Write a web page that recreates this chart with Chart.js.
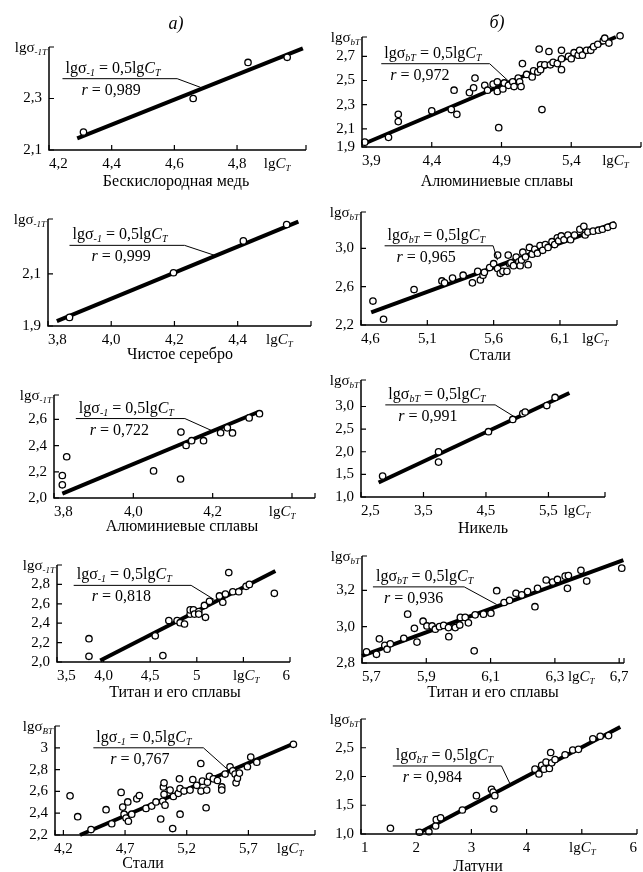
<!DOCTYPE html>
<html lang="ru">
<head>
<meta charset="UTF-8" />
<title>lgσ – lgC_T</title>
<script src="https://cdn.jsdelivr.net/npm/chart.js"></script>
<style>
  html, body { margin: 0; background: #fff; overflow: hidden; }
  #page {
    position: relative;
    width: 643px; height: 872px;
    overflow: hidden;
    font-family: 'Liberation Serif', 'Times New Roman', serif;
    color: #000;
  }
  #page canvas { position: absolute; }
  .cap { position: absolute; font-size: 16px; white-space: nowrap; transform: translate(-50%, -50%); }
  .hdr { position: absolute; font-size: 18px; font-style: italic; transform: translate(-50%, -50%); }
</style>
</head>
<body>
<div id="page"></div>

<script>
// --- Бескислородная медь ---
const cuX = [4.31, 4.66, 4.835, 4.96];
const cuY = [2.17, 2.30, 2.44, 2.46];
const cuFitX = [4.29, 5.01];
const cuFitY = [2.145, 2.495];
const cuXTicks = [4.2, 4.4, 4.6, 4.8, 5.02];
const cuXLabels = ['4,2', '4,4', '4,6', '4,8', ''];
const cuYTicks = [2.1, 2.3];
const cuYLabels = ['2,1', '2,3'];

// --- Алюминиевые сплавы (σbT) ---
const alBX = [3.92, 4.09, 4.16, 4.16, 4.40, 4.54, 4.56, 4.58,
              4.67, 4.70, 4.71, 4.78, 4.80, 4.84, 4.87, 4.87,
              4.88, 4.91, 4.92, 4.95, 4.98, 4.99, 5.02, 5.03,
              5.04, 5.05, 5.08, 5.12, 5.13, 5.16, 5.17, 5.18,
              5.18, 5.19, 5.21, 5.24, 5.25, 5.27, 5.30, 5.33,
              5.33, 5.33, 5.38, 5.40, 5.42, 5.45, 5.46, 5.48,
              5.51, 5.54, 5.56, 5.59, 5.63, 5.64, 5.67, 5.75];
const alBY = [1.99, 2.03, 2.22, 2.16, 2.25, 2.26, 2.42, 2.22,
              2.40, 2.44, 2.52, 2.46, 2.42, 2.47, 2.49, 2.41,
              2.11, 2.43, 2.48, 2.46, 2.49, 2.45, 2.52, 2.49,
              2.45, 2.64, 2.55, 2.53, 2.58, 2.57, 2.76, 2.63,
              2.59, 2.26, 2.63, 2.74, 2.63, 2.65, 2.64, 2.68,
              2.59, 2.75, 2.70, 2.68, 2.73, 2.71, 2.75, 2.71,
              2.75, 2.75, 2.78, 2.80, 2.83, 2.85, 2.81, 2.87];
const alBFitX = [3.91, 5.72];
const alBFitY = [1.975, 2.86];
const alBXTicks = [3.9, 4.4, 4.9, 5.4, 5.9];
const alBXLabels = ['3,9', '4,4', '4,9', '5,4', ''];
const alBYTicks = [1.95, 2.1, 2.3, 2.5, 2.7];
const alBYLabels = ['1,9', '2,1', '2,3', '2,5', '2,7'];

// --- Чистое серебро ---
const agX = [3.868, 4.197, 4.418, 4.555];
const agY = [1.933, 2.104, 2.226, 2.289];
const agFitX = [3.828, 4.592];
const agFitY = [1.919, 2.30];
const agXTicks = [3.8, 4.0, 4.2, 4.4, 4.632];
const agXLabels = ['3,8', '4,0', '4,2', '4,4', ''];
const agYTicks = [1.9, 2.1];
const agYLabels = ['1,9', '2,1'];

// --- Стали (σbT) ---
const stBX = [4.69, 4.77, 5.00, 5.21, 5.23, 5.29, 5.37, 5.44,
              5.48, 5.50, 5.52, 5.53, 5.57, 5.60, 5.63, 5.63,
              5.65, 5.67, 5.70, 5.71, 5.72, 5.73, 5.75, 5.77,
              5.79, 5.80, 5.81, 5.82, 5.84, 5.86, 5.87, 5.89,
              5.91, 5.93, 5.95, 5.97, 5.99, 6.01, 6.04, 6.06,
              6.08, 6.09, 6.11, 6.13, 6.16, 6.18, 6.21, 6.25,
              6.28, 6.29, 6.31, 6.35, 6.39, 6.42, 6.46, 6.50];
const stBY = [2.45, 2.26, 2.57, 2.66, 2.64, 2.69, 2.72, 2.64,
              2.76, 2.67, 2.72, 2.75, 2.80, 2.84, 2.93, 2.79,
              2.74, 2.76, 2.76, 2.93, 2.84, 2.85, 2.82, 2.91,
              2.86, 2.82, 2.88, 2.96, 2.91, 2.83, 3.01, 2.94,
              2.99, 2.95, 3.03, 2.98, 3.04, 3.01, 3.07, 3.04,
              3.11, 3.08, 3.13, 3.09, 3.14, 3.09, 3.14, 3.20,
              3.23, 3.14, 3.17, 3.18, 3.19, 3.20, 3.22, 3.24];
const stBFitX = [4.677, 6.516];
const stBFitY = [2.333, 3.267];
const stBXTicks = [4.6, 5.1, 5.6, 6.1, 6.53];
const stBXLabels = ['4,6', '5,1', '5,6', '6,1', ''];
const stBYTicks = [2.2, 2.6, 3.0];
const stBYLabels = ['2,2', '2,6', '3,0'];

// --- Алюминиевые сплавы (σ-1T) ---
const alAX = [3.821, 3.821, 3.832, 4.051, 4.12, 4.119, 4.133, 4.147, 4.177, 4.22, 4.237, 4.25, 4.292, 4.318];
const alAY = [2.172, 2.101, 2.315, 2.207, 2.504, 2.145, 2.401, 2.438, 2.438, 2.499, 2.536, 2.497, 2.612, 2.644];
const alAFitX = [3.821, 4.315];
const alAFitY = [2.034, 2.657];
const alAXTicks = [3.8, 4.0, 4.2, 4.4];
const alAXLabels = ['3,8', '4,0', '4,2', ''];
const alAYTicks = [2.0, 2.2, 2.4, 2.6];
const alAYLabels = ['2,0', '2,2', '2,4', '2,6'];

// --- Никель ---
const niX = [2.846, 3.741, 3.741, 4.54, 4.929, 5.089, 5.127, 5.473, 5.606];
const niY = [1.464, 2.0, 1.771, 2.443, 2.714, 2.843, 2.879, 3.021, 3.2];
const niFitX = [2.782, 5.835];
const niFitY = [1.321, 3.3];
const niXTicks = [2.5, 3.5, 4.5, 5.5, 6.405];
const niXLabels = ['2,5', '3,5', '4,5', '5,5', ''];
const niYTicks = [1.0, 1.5, 2.0, 2.5, 3.0];
const niYLabels = ['1,0', '1,5', '2,0', '2,5', '3,0'];

// --- Титан и его сплавы (σ-1T) ---
const tiAX = [3.843, 3.843, 4.554, 4.636, 4.70, 4.789, 4.821, 4.868, 4.929, 4.929,
              4.964, 4.975, 5.021, 5.021, 5.082, 5.093, 5.136, 5.243, 5.279, 5.307,
              5.343, 5.386, 5.45, 5.529, 5.564, 5.832];
const tiAY = [2.24, 2.059, 2.27, 2.066, 2.428, 2.428, 2.405, 2.392, 2.494, 2.537,
              2.537, 2.494, 2.52, 2.494, 2.583, 2.461, 2.626, 2.681, 2.616, 2.701,
              2.922, 2.724, 2.724, 2.78, 2.80, 2.708];
const tiAFitX = [3.964, 5.843];
const tiAFitY = [2.016, 2.938];
const tiAXTicks = [3.5, 4.0, 4.5, 5.0, 5.5, 6.0];
const tiAXLabels = ['3,5', '4,0', '4,5', '5', '', '6'];
const tiAYTicks = [2.0, 2.2, 2.4, 2.6, 2.8];
const tiAYLabels = ['2,0', '2,2', '2,4', '2,6', '2,8'];

// --- Титан и его сплавы (σbT) ---
const tiBX = [5.714, 5.745, 5.754, 5.771, 5.778, 5.788, 5.83, 5.842, 5.863, 5.871,
              5.89, 5.902, 5.918, 5.928, 5.941, 5.954, 5.969, 5.97, 5.99, 6.004,
              6.006, 6.021, 6.031, 6.049, 6.052, 6.078, 6.101, 6.119, 6.142, 6.159,
              6.179, 6.197, 6.215, 6.238, 6.246, 6.273, 6.293, 6.308, 6.332, 6.339,
              6.342, 6.381, 6.399, 6.508];
const tiBY = [2.862, 2.848, 2.933, 2.897, 2.876, 2.906, 2.936, 3.069, 2.991, 2.915,
              3.03, 3.004, 3.004, 2.986, 3.0, 3.007, 2.995, 2.945, 2.995, 3.009,
              3.051, 3.051, 3.021, 2.867, 3.065, 3.069, 3.074, 3.198, 3.133, 3.145,
              3.184, 3.175, 3.193, 3.11, 3.211, 3.257, 3.246, 3.26, 3.278, 3.211,
              3.281, 3.31, 3.251, 3.322];
const tiBFitX = [5.70, 6.513];
const tiBFitY = [2.839, 3.366];
const tiBXTicks = [5.7, 5.9, 6.1, 6.3, 6.5, 6.515];
const tiBXLabels = ['5,7', '5,9', '6,1', '6,3', '6,7', ''];
const tiBYTicks = [2.8, 3.0, 3.2];
const tiBYLabels = ['2,8', '3,0', '3,2'];

// --- Стали (σBT) ---
const stAX = [4.254, 4.316, 4.424, 4.546, 4.592, 4.668, 4.681, 4.692, 4.708, 4.722,
              4.727, 4.754, 4.795, 4.816, 4.87, 4.916, 4.951, 4.989, 5.005, 5.011,
              5.016, 5.016, 5.024, 5.065, 5.086, 5.092, 5.132, 5.141, 5.146, 5.146,
              5.178, 5.227, 5.249, 5.281, 5.314, 5.316, 5.327, 5.357, 5.362, 5.368,
              5.384, 5.416, 5.449, 5.484, 5.484, 5.511, 5.551, 5.573, 5.592, 5.60,
              5.611, 5.627, 5.692, 5.719, 5.768, 6.065];
const stAY = [2.559, 2.368, 2.25, 2.432, 2.303, 2.591, 2.456, 2.391, 2.356, 2.503,
              2.326, 2.391, 2.532, 2.562, 2.444, 2.465, 2.503, 2.347, 2.509, 2.641,
              2.679, 2.574, 2.474, 2.612, 2.259, 2.553, 2.582, 2.715, 2.626, 2.391,
              2.603, 2.612, 2.709, 2.656, 2.856, 2.603, 2.694, 2.45, 2.612, 2.685,
              2.738, 2.715, 2.70, 2.641, 2.612, 2.759, 2.826, 2.788, 2.759, 2.679,
              2.721, 2.768, 2.826, 2.915, 2.868, 3.032];
const stAFitX = [4.335, 6.078];
const stAFitY = [2.20, 3.044];
const stAXTicks = [4.132, 4.2, 4.7, 5.2, 5.7, 6.24];
const stAXLabels = ['', '4,2', '4,7', '5,2', '5,7', ''];
const stAYTicks = [2.2, 2.4, 2.6, 2.8, 3.0];
const stAYLabels = ['2,2', '2,4', '2,6', '2,8', '3'];

// --- Латуни ---
const brX = [1.533, 2.06, 2.23, 2.352, 2.364, 2.442, 2.836, 3.091, 3.364, 3.394,
             3.406, 3.424, 4.152, 4.224, 4.273, 4.315, 4.352, 4.412, 4.436, 4.455,
             4.515, 4.697, 4.836, 4.939, 5.20, 5.333, 5.485];
const brY = [1.10, 1.03, 1.04, 1.139, 1.25, 1.283, 1.417, 1.667, 1.778, 1.728,
             1.433, 1.667, 2.128, 2.044, 2.194, 2.128, 2.25, 2.139, 2.417, 2.239,
             2.294, 2.378, 2.461, 2.472, 2.656, 2.70, 2.711];
const brFitX = [2.048, 5.697];
const brFitY = [1.017, 2.861];
const brXTicks = [1, 2, 3, 4, 5, 6];
const brXLabels = ['1', '2', '3', '4', '', '6'];
const brYTicks = [1.0, 1.5, 2.0, 2.5];
const brYLabels = ['1,0', '1,5', '2,0', '2,5'];

const SERIF = '"Liberation Serif", "Times New Roman", serif';
const PADL = 46, PADR = 14, PADT = 12, PADB = 24;

// plot boxes on the page, axis ranges and the equation callouts (in data units)
const panels = [
  { x: cuX, y: cuY, fx: cuFitX, fy: cuFitY, xt: cuXTicks, xl: cuXLabels, yt: cuYTicks, yl: cuYLabels,
    L: 49.3, R: 306.7, T: 43.3, B: 150.7, xr: [4.2, 5.02], yr: [2.1, 2.5],
    ySub: '-1T', eqSub: '-1', r: '0,989', cx: 4.928, rDx: 19,
    note: { x0: 4.243, x1: 4.609, x2: 4.684, y1: 2.377, y2: 2.343 },
    cap: 'Бескислородная медь', capX: 176, capY: 181 },
  { x: alBX, y: alBY, fx: alBFitX, fy: alBFitY, xt: alBXTicks, xl: alBXLabels, yt: alBYTicks, yl: alBYLabels,
    L: 362.3, R: 641.5, T: 33.3, B: 147, xr: [3.9, 5.9], yr: [1.95, 2.86],
    ySub: 'bT', eqSub: 'bT', r: '0,972', cx: 5.717, rDx: 9,
    note: { x0: 4.038, x1: 4.815, x2: 4.958, y1: 2.639, y2: 2.487 },
    cap: 'Алюминиевые сплавы', capX: 497, capY: 181 },
  { x: agX, y: agY, fx: agFitX, fy: agFitY, xt: agXTicks, xl: agXLabels, yt: agYTicks, yl: agYLabels,
    L: 48.3, R: 311.7, T: 215, B: 325.7, xr: [3.8, 4.632], yr: [1.9, 2.31],
    ySub: '-1T', eqSub: '-1', r: '0,999', cx: 4.532, rDx: 22,
    note: { x0: 3.868, x1: 4.232, x2: 4.329, y1: 2.209, y2: 2.170 },
    cap: 'Чистое серебро', capX: 180, capY: 354 },
  { x: stBX, y: stBY, fx: stBFitX, fy: stBFitY, xt: stBXTicks, xl: stBXLabels, yt: stBYTicks, yl: stBYLabels,
    L: 361, R: 616.7, T: 208.3, B: 325.7, xr: [4.6, 6.53], yr: [2.2, 3.38],
    ySub: 'bT', eqSub: 'bT', r: '0,965', cx: 6.366, rDx: 12,
    note: { x0: 4.778, x1: 5.596, x2: 5.629, y1: 3.027, y2: 2.877 },
    cap: 'Стали', capX: 490, capY: 355 },
  { x: alAX, y: alAY, fx: alAFitX, fy: alAFitY, xt: alAXTicks, xl: alAXLabels, yt: alAYTicks, yl: alAYLabels,
    L: 54, R: 315, T: 390.7, B: 497.3, xr: [3.8, 4.458], yr: [2.0, 2.787],
    ySub: '-1T', eqSub: '-1', r: '0,722', cx: 4.375, rDx: 14,
    note: { x0: 3.855, x1: 4.13, x2: 4.202, y1: 2.607, y2: 2.509 },
    cap: 'Алюминиевые сплавы', capX: 182, capY: 526 },
  { x: niX, y: niY, fx: niFitX, fy: niFitY, xt: niXTicks, xl: niXLabels, yt: niYTicks, yl: niYLabels,
    L: 360.7, R: 605, T: 376, B: 496.7, xr: [2.5, 6.405], yr: [1.0, 3.586],
    ySub: 'bT', eqSub: 'bT', r: '0,991', cx: 5.957, rDx: 13,
    note: { x0: 2.889, x1: 4.647, x2: 4.94, y1: 3.036, y2: 2.786 },
    cap: 'Никель', capX: 483, capY: 528 },
  { x: tiAX, y: tiAY, fx: tiAFitX, fy: tiAFitY, xt: tiAXTicks, xl: tiAXLabels, yt: tiAYTicks, yl: tiAYLabels,
    L: 57.3, R: 290.7, T: 560.7, B: 661.7, xr: [3.5, 6.0], yr: [2.0, 3.0],
    ySub: '-1T', eqSub: '-1', r: '0,818', cx: 5.531, rDx: 18,
    note: { x0: 3.679, x1: 4.939, x2: 5.189, y1: 2.79, y2: 2.642 },
    cap: 'Титан и его сплавы', capX: 175, capY: 692 },
  { x: tiBX, y: tiBY, fx: tiBFitX, fy: tiBFitY, xt: tiBXTicks, xl: tiBXLabels, yt: tiBYTicks, yl: tiBYLabels,
    L: 361.7, R: 624, T: 551.7, B: 662.7, xr: [5.7, 6.515], yr: [2.8, 3.389],
    ySub: 'bT', eqSub: 'bT', r: '0,936', cx: 6.382, rDx: 11,
    note: { x0: 5.734, x1: 6.018, x2: 6.119, y1: 3.219, y2: 3.122 },
    cap: 'Титан и его сплавы', capX: 493, capY: 692 },
  { x: stAX, y: stAY, fx: stAFitX, fy: stAFitY, xt: stAXTicks, xl: stAXLabels, yt: stAYTicks, yl: stAYLabels,
    L: 55, R: 315, T: 721.7, B: 835, xr: [4.132, 6.24], yr: [2.2, 3.2],
    ySub: 'BT', eqSub: '-1', r: '0,767', cx: 6.038, rDx: 17,
    note: { x0: 4.443, x1: 5.335, x2: 5.524, y1: 3.0, y2: 2.809 },
    cap: 'Стали', capX: 143, capY: 863 },
  { x: brX, y: brY, fx: brFitX, fy: brFitY, xt: brXTicks, xl: brXLabels, yt: brYTicks, yl: brYLabels,
    L: 360.7, R: 636.7, T: 715, B: 834.3, xr: [1, 6], yr: [1.0, 3.0],
    ySub: 'bT', eqSub: 'bT', r: '0,984', cx: 5.009, rDx: 10,
    note: { x0: 1.576, x1: 3.545, x2: 3.697, y1: 2.183, y2: 1.878 },
    cap: 'Латуни', capX: 478, capY: 866 }
];

// text with italic letters and small subscripts
function rich(ctx, parts, x, y, align, size) {
  const fonts = {
    n: size + 'px ' + SERIF,
    i: 'italic ' + size + 'px ' + SERIF,
    s: 'italic ' + Math.round(size * 0.6) + 'px ' + SERIF
  };
  ctx.textAlign = 'left';
  ctx.textBaseline = 'alphabetic';
  let w = 0;
  parts.forEach(([t, s]) => { ctx.font = fonts[s]; w += ctx.measureText(t).width; });
  let cx = align === 'right' ? x - w : align === 'center' ? x - w / 2 : x;
  parts.forEach(([t, s]) => {
    ctx.font = fonts[s];
    ctx.fillText(t, cx, s === 's' ? y + 3 : y);
    cx += ctx.measureText(t).width;
  });
}

function decor(p) {
  return {
    id: 'decor',
    afterDatasetsDraw(chart) {
      const { ctx, chartArea: a, scales: { x, y } } = chart;
      ctx.save();
      ctx.strokeStyle = '#000';
      ctx.fillStyle = '#000';

      // axes with inward ticks
      ctx.lineWidth = 1.5;
      ctx.beginPath();
      ctx.moveTo(a.left, a.top);
      ctx.lineTo(a.left, a.bottom);
      ctx.lineTo(a.right, a.bottom);
      ctx.stroke();
      ctx.lineWidth = 1.2;
      ctx.beginPath();
      x.ticks.forEach(t => {
        const px = x.getPixelForValue(t.value);
        ctx.moveTo(px, a.bottom); ctx.lineTo(px, a.bottom - 5);
      });
      y.ticks.forEach(t => {
        const py = y.getPixelForValue(t.value);
        ctx.moveTo(a.left, py); ctx.lineTo(a.left + 5, py);
      });
      ctx.moveTo(a.right, a.bottom); ctx.lineTo(a.right, a.bottom - 5);
      ctx.moveTo(a.left, a.top); ctx.lineTo(a.left + 5, a.top);
      ctx.stroke();

      // equation callout
      const n = p.note;
      const x0 = x.getPixelForValue(n.x0), x1 = x.getPixelForValue(n.x1), x2 = x.getPixelForValue(n.x2);
      const y1 = y.getPixelForValue(n.y1), y2 = y.getPixelForValue(n.y2);
      ctx.lineWidth = 1;
      ctx.beginPath();
      ctx.moveTo(x0, y1); ctx.lineTo(x1, y1); ctx.lineTo(x2, y2);
      ctx.stroke();
      rich(ctx, [['lgσ', 'n'], [p.eqSub, 's'], [' = 0,5lg', 'n'], ['C', 'i'], ['T', 's']], x0 + 3, y1 - 6, 'left', 16);
      rich(ctx, [['r', 'i'], [' = ' + p.r, 'n']], x0 + p.rDx, y1 + 16, 'left', 16);

      // axis names
      rich(ctx, [['lgσ', 'n'], [p.ySub, 's']], a.left - 2, a.top + 5, 'right', 15);
      rich(ctx, [['lg', 'n'], ['C', 'i'], ['T', 's']], x.getPixelForValue(p.cx), a.bottom + 18, 'center', 15);
      ctx.restore();
    }
  };
}

const page = document.getElementById('page');

panels.forEach(p => {
  const c = document.createElement('canvas');
  const w = Math.round(p.R - p.L) + PADL + PADR;
  const h = Math.round(p.B - p.T) + PADT + PADB;
  c.width = w; c.height = h;
  c.style.width = w + 'px'; c.style.height = h + 'px';
  c.style.left = (p.L - PADL) + 'px';
  c.style.top = (p.T - PADT) + 'px';
  page.appendChild(c);

  const tickFont = { family: SERIF, size: 15 };
  new Chart(c, {
    type: 'scatter',
    data: {
      datasets: [
        {
          data: p.x.map((v, i) => ({ x: v, y: p.y[i] })),
          pointRadius: 3.2,
          pointBorderWidth: 1.3,
          pointBackgroundColor: '#fff',
          pointBorderColor: '#000',
          order: 0,
          clip: false
        },
        {
          data: p.fx.map((v, i) => ({ x: v, y: p.fy[i] })),
          showLine: true,
          borderColor: '#000',
          borderWidth: 4,
          pointRadius: 0,
          order: 1,
          clip: false
        }
      ]
    },
    options: {
      responsive: false,
      animation: false,
      events: [],
      layout: { padding: { left: 0, right: PADR, top: PADT, bottom: 0 } },
      plugins: { legend: { display: false }, tooltip: { enabled: false } },
      scales: {
        x: {
          type: 'linear', min: p.xr[0], max: p.xr[1], bounds: 'data',
          grid: { display: false, drawTicks: false, tickLength: 0 }, border: { display: false },
          afterBuildTicks: s => { s.ticks = p.xt.map(v => ({ value: v })); },
          afterFit: s => { s.height = PADB; },
          ticks: { autoSkip: false, maxRotation: 0, align: 'inner', padding: 5, color: '#000', font: tickFont,
                   callback: (v, i) => p.xl[i] }
        },
        y: {
          type: 'linear', min: p.yr[0], max: p.yr[1], bounds: 'data',
          grid: { display: false, drawTicks: false, tickLength: 0 }, border: { display: false },
          afterBuildTicks: s => { s.ticks = p.yt.map(v => ({ value: v })); },
          afterFit: s => { s.width = PADL; },
          ticks: { autoSkip: false, padding: 7, color: '#000', font: tickFont,
                   callback: (v, i) => p.yl[i] }
        }
      }
    },
    plugins: [decor(p)]
  });

  const cap = document.createElement('div');
  cap.className = 'cap';
  cap.textContent = p.cap;
  cap.style.left = p.capX + 'px';
  cap.style.top = p.capY + 'px';
  page.appendChild(cap);
});

[['а)', 176, 23], ['б)', 497, 22]].forEach(([t, x, y]) => {
  const d = document.createElement('div');
  d.className = 'hdr';
  d.textContent = t;
  d.style.left = x + 'px';
  d.style.top = y + 'px';
  page.appendChild(d);
});
</script>
</body>
</html>
